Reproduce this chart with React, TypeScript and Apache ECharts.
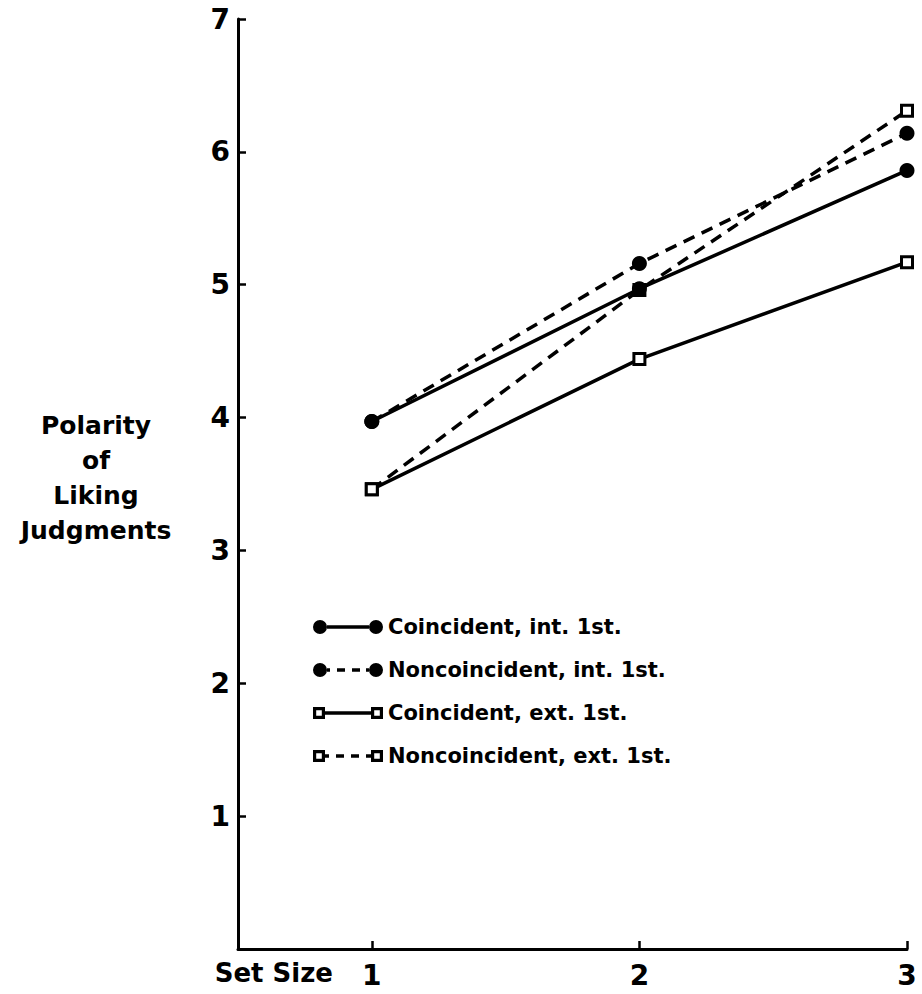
import React, { useEffect, useRef } from "react";
import * as echarts from "echarts";

const setSizes = [1, 2, 3];
const xTickValues = [1, 2, 3];
const coincidentInt = [3.97, 4.97, 5.86];
const noncoincidentInt = [3.97, 5.16, 6.14];
const coincidentExt = [3.46, 4.44, 5.17];
const noncoincidentExt = [3.46, 4.96, 6.31];
const seriesNames = [
  "Coincident, int. 1st.",
  "Noncoincident, int. 1st.",
  "Coincident, ext. 1st.",
  "Noncoincident, ext. 1st.",
];
const yAxisTitle = "Polarity\nof\nLiking\nJudgments";
const xAxisTitle = "Set Size";

const FONT = "DejaVu Sans";

const iconSolidCircle =
  "path://M0 7A7 7 0 1 0 14 7A7 7 0 1 0 0 7Z M14 5.3L56 5.3L56 8.7L14 8.7Z M56 7A7 7 0 1 0 70 7A7 7 0 1 0 56 7Z";
const iconDashCircle =
  "path://M0 7A7 7 0 1 0 14 7A7 7 0 1 0 0 7Z M14 5.3L17 5.3L17 8.7L14 8.7Z M24 5.3L32 5.3L32 8.7L24 8.7Z M39 5.3L47 5.3L47 8.7L39 8.7Z M53 5.3L56 5.3L56 8.7L53 8.7Z M56 7A7 7 0 1 0 70 7A7 7 0 1 0 56 7Z";
const iconSolidSquare =
  "path://M0 1L12 1L12 13L0 13Z M3.2 4.2L3.2 9.8L8.8 9.8L8.8 4.2Z M12 5.3L58 5.3L58 8.7L12 8.7Z M58 1L70 1L70 13L58 13Z M61.2 4.2L61.2 9.8L66.8 9.8L66.8 4.2Z";
const iconDashSquare =
  "path://M0 1L12 1L12 13L0 13Z M3.2 4.2L3.2 9.8L8.8 9.8L8.8 4.2Z M12 5.3L16 5.3L16 8.7L12 8.7Z M23 5.3L31 5.3L31 8.7L23 8.7Z M38 5.3L46 5.3L46 8.7L38 8.7Z M53 5.3L58 5.3L58 8.7L53 8.7Z M58 1L70 1L70 13L58 13Z M61.2 4.2L61.2 9.8L66.8 9.8L66.8 4.2Z";

const pairs = (ys: number[]) => setSizes.map((x, i) => [x, ys[i]]);

export default function App() {
  const ref = useRef<HTMLDivElement>(null);
  useEffect(() => {
    if (!ref.current) return;
    const chart = echarts.init(ref.current, null, { renderer: "svg" });
    const lineBase = { color: "#000", width: 3.5 };
    const dashed = { ...lineBase, type: [12, 8] as any };
    const circleStyle = { color: "#000" };
    const squareStyle = { color: "#fff", borderColor: "#000", borderWidth: 3 };
    chart.setOption({
      animation: false,
      backgroundColor: "#fff",
      grid: { left: 238, right: 15, top: 19, bottom: 45 },
      xAxis: {
        type: "value",
        min: 0.5,
        max: 3,
        axisLine: { lineStyle: { color: "#000", width: 3 } },
        axisTick: {
          inside: true,
          length: 8,
          customValues: xTickValues,
          lineStyle: { color: "#000", width: 2.5 },
        },
        axisLabel: {
          customValues: xTickValues,
          color: "#000",
          fontSize: 28,
          fontWeight: "bold",
          fontFamily: FONT,
          margin: 12,
        },
        splitLine: { show: false },
      },
      yAxis: {
        type: "value",
        min: 0,
        max: 7,
        interval: 1,
        axisLine: { lineStyle: { color: "#000", width: 3 } },
        axisTick: { inside: true, length: 8, lineStyle: { color: "#000", width: 2.5 } },
        axisLabel: {
          color: "#000",
          fontSize: 28,
          fontWeight: "bold",
          fontFamily: FONT,
          margin: 8,
          formatter: (v: number) => (v === 0 ? "" : String(v)),
        },
        splitLine: { show: false },
      },
      legend: {
        orient: "vertical",
        left: 308,
        top: 610,
        itemWidth: 70,
        itemHeight: 14,
        itemGap: 19,
        selectedMode: false,
        textStyle: {
          color: "#000",
          fontSize: 21,
          fontWeight: "bold",
          fontFamily: FONT,
          lineHeight: 24,
        },
        data: [
          { name: seriesNames[0], icon: iconSolidCircle, itemStyle: { color: "#000", borderWidth: 0 } },
          { name: seriesNames[1], icon: iconDashCircle, itemStyle: { color: "#000", borderWidth: 0 } },
          { name: seriesNames[2], icon: iconSolidSquare, itemStyle: { color: "#000", borderWidth: 0 } },
          { name: seriesNames[3], icon: iconDashSquare, itemStyle: { color: "#000", borderWidth: 0 } },
        ],
      },
      graphic: [
        {
          type: "text",
          x: 96,
          y: 408,
          style: {
            text: yAxisTitle,
            x: 0,
            y: 0,
            align: "center",
            textAlign: "center",
            verticalAlign: "top",
            lineHeight: 35,
            fill: "#000",
            fontSize: 25,
            fontWeight: "bold",
            fontFamily: FONT,
          },
        },
        {
          type: "text",
          x: 333,
          y: 973,
          style: {
            text: xAxisTitle,
            x: 0,
            y: 0,
            align: "right",
            textAlign: "right",
            verticalAlign: "middle",
            textVerticalAlign: "middle",
            fill: "#000",
            fontSize: 26,
            fontWeight: "bold",
            fontFamily: FONT,
          },
        },
      ],
      series: [
        {
          name: seriesNames[2],
          type: "line",
          data: pairs(coincidentExt),
          symbol: "rect",
          symbolSize: 11,
          itemStyle: squareStyle,
          lineStyle: lineBase,
          z: 2,
        },
        {
          name: seriesNames[3],
          type: "line",
          data: pairs(noncoincidentExt),
          symbol: "rect",
          symbolSize: 11,
          itemStyle: squareStyle,
          lineStyle: dashed,
          z: 2,
        },
        {
          name: seriesNames[0],
          type: "line",
          data: pairs(coincidentInt),
          symbol: "circle",
          symbolSize: 15,
          itemStyle: circleStyle,
          lineStyle: lineBase,
          z: 3,
        },
        {
          name: seriesNames[1],
          type: "line",
          data: pairs(noncoincidentInt),
          symbol: "circle",
          symbolSize: 15,
          itemStyle: circleStyle,
          lineStyle: dashed,
          z: 3,
        },
      ],
    });
    return () => chart.dispose();
  }, []);
  return (
    <div
      ref={ref}
      style={{ position: "fixed", left: 0, top: 0, width: 922, height: 994, background: "#fff" }}
    />
  );
}
